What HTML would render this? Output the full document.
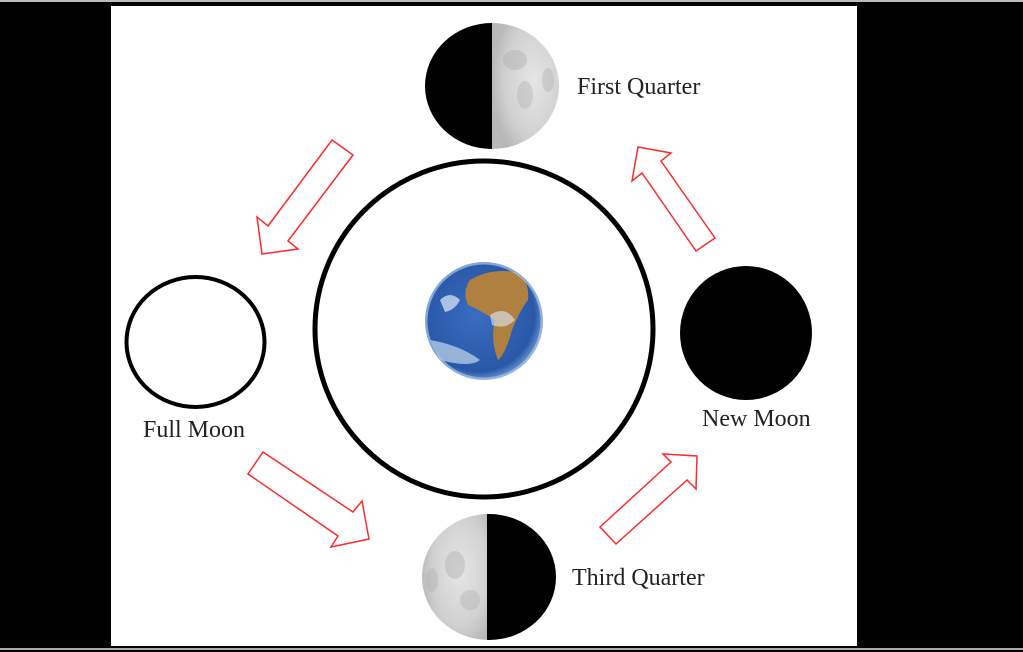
<!DOCTYPE html>
<html><head><style>
html,body{margin:0;padding:0;background:#000;width:1023px;height:652px;overflow:hidden}
svg{display:block}
text{font-family:"Liberation Serif",serif;font-size:24px;fill:#222}
</style></head><body>
<svg width="1023" height="652" viewBox="0 0 1023 652">
<defs>
<radialGradient id="moon" cx="0.6" cy="0.45" r="0.6">
<stop offset="0" stop-color="#e6e6e6"/><stop offset="0.7" stop-color="#d0d0d0"/><stop offset="1" stop-color="#b8b8b8"/>
</radialGradient>
<radialGradient id="earth" cx="0.45" cy="0.45" r="0.6">
<stop offset="0" stop-color="#3a6cc0"/><stop offset="0.8" stop-color="#2a58a8"/><stop offset="1" stop-color="#8ab0e0"/>
</radialGradient>
<clipPath id="fq"><ellipse cx="492" cy="86" rx="67" ry="63"/></clipPath>
<clipPath id="tq"><ellipse cx="489" cy="577" rx="67" ry="63"/></clipPath>
<clipPath id="ec"><circle cx="484" cy="321" r="59"/></clipPath>
</defs>
<rect x="0" y="0" width="1023" height="2" fill="#bbb"/>
<rect x="0" y="648" width="1023" height="2" fill="#aaa"/>
<rect x="111" y="6" width="746" height="640" fill="#fff"/>

<g clip-path="url(#fq)">
<rect x="420" y="20" width="72" height="135" fill="#000"/>
<rect x="492" y="20" width="70" height="135" fill="url(#moon)"/>
<ellipse cx="515" cy="60" rx="12" ry="10" fill="#aaa" opacity="0.4"/>
<ellipse cx="525" cy="95" rx="8" ry="14" fill="#aaa" opacity="0.35"/>
<ellipse cx="548" cy="80" rx="6" ry="12" fill="#aaa" opacity="0.35"/>
</g>
<text x="577" y="94">First Quarter</text>

<g clip-path="url(#tq)">
<rect x="420" y="510" width="67" height="135" fill="url(#moon)"/>
<rect x="487" y="510" width="72" height="135" fill="#000"/>
<ellipse cx="455" cy="565" rx="10" ry="14" fill="#aaa" opacity="0.4"/>
<ellipse cx="470" cy="600" rx="10" ry="10" fill="#aaa" opacity="0.35"/>
<ellipse cx="432" cy="580" rx="6" ry="12" fill="#aaa" opacity="0.35"/>
</g>
<text x="572" y="585">Third Quarter</text>

<ellipse cx="484" cy="329" rx="169" ry="168" fill="none" stroke="#000" stroke-width="5"/>

<g clip-path="url(#ec)">
<circle cx="484" cy="321" r="59" fill="url(#earth)"/>
<path d="M470 280 Q490 268 515 272 Q530 280 528 300 Q520 310 512 330 Q505 355 498 360 Q490 340 495 320 Q480 310 468 305 Q462 292 470 280Z" fill="#b08040"/>
<path d="M440 300 Q450 290 460 300 Q455 310 445 312Z" fill="#e0ecf8" opacity="0.7"/>
<path d="M430 340 Q460 345 480 360 Q470 368 440 360Z" fill="#e0ecf8" opacity="0.6"/>
<path d="M490 315 Q505 305 515 320 Q505 330 492 325Z" fill="#e0ecf8" opacity="0.6"/>
<circle cx="484" cy="321" r="58" fill="none" stroke="#a8c8ec" stroke-width="3" opacity="0.7"/>
</g>

<ellipse cx="195.5" cy="342" rx="69" ry="65" fill="#fff" stroke="#000" stroke-width="4"/>
<text x="143" y="437">Full Moon</text>

<ellipse cx="746" cy="333" rx="66" ry="67" fill="#000"/>
<text x="702" y="426">New Moon</text>

<g fill="#fff" stroke="#ff2a2a" stroke-width="1.5" stroke-linejoin="miter">
<polygon points="332,140 353,155 288,241 298,249 262,254 257,217 268,226"/>
<polygon points="638,147 671,153 661,161 715,238 696,251 642,173 632,181"/>
<polygon points="263,452 353,512 362,501 369,539 331,547 338,536 248,474"/>
<polygon points="600,527 671,462 663,454 697,456 696,489 687,480 616,544"/>
</g>
</svg>
</body></html>
